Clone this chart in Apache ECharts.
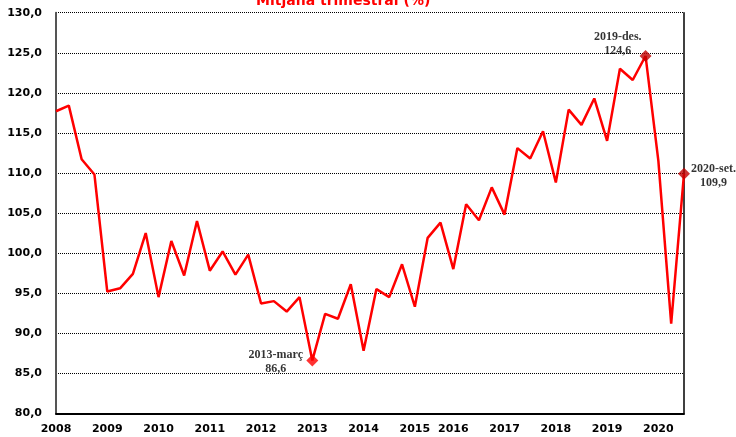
<!DOCTYPE html>
<html>
<head>
<meta charset="utf-8">
<script src="https://cdn.jsdelivr.net/npm/echarts@6/dist/echarts.min.js"></script>
<style>html,body{margin:0;padding:0;background:#fff;}#c{width:736px;height:437px;}</style>
</head>
<body>
<div id="c"></div>
<script>
const titleText = 'Mitjana trimestral (%)';
const categories = [
  '2008-març','2008-juny','2008-set.','2008-des.',
  '2009-març','2009-juny','2009-set.','2009-des.',
  '2010-març','2010-juny','2010-set.','2010-des.',
  '2011-març','2011-juny','2011-set.','2011-des.',
  '2012-març','2012-juny','2012-set.','2012-des.',
  '2013-març','2013-juny','2013-set.','2013-des.',
  '2014-març','2014-juny','2014-set.','2014-des.',
  '2015-març','2015-juny','2015-set.',
  '2016-març','2016-juny','2016-set.','2016-des.',
  '2017-març','2017-juny','2017-set.','2017-des.',
  '2018-març','2018-juny','2018-set.','2018-des.',
  '2019-març','2019-juny','2019-set.','2019-des.',
  '2020-març','2020-juny','2020-set.'
];
const values = [
  117.7, 118.4, 111.7, 109.8,
  95.2, 95.6, 97.4, 102.5,
  94.5, 101.5, 97.2, 104.0,
  97.8, 100.2, 97.3, 99.8,
  93.7, 94.0, 92.7, 94.5,
  86.6, 92.4, 91.8, 96.1,
  87.8, 95.5, 94.5, 98.6,
  93.3, 101.9, 103.8,
  98.0, 106.1, 104.1, 108.2,
  104.8, 113.1, 111.8, 115.2,
  108.8, 117.9, 116.0, 119.3,
  114.0, 123.0, 121.6, 124.6,
  111.5, 91.2, 109.9
];
const yTicks = { min: 80, max: 130, interval: 5 };
const tickYears = ['2008','2009','2010','2011','2012','2013','2014','2015','2016','2017','2018','2019','2020'];
const highlightCats = ['2013-març', '2019-des.', '2020-set.'];
const highlightNames = ['2013-març', '2019-des.', '2020-set.'];
const highlightValues = [86.6, 124.6, 109.9];
const highlightColors = ['#FF0000', '#C00000', '#C00000'];
const highlightLabelPos = [[-30.5, 7], [-21.8, -5.6], [35.5, 8.6]];

const chart = echarts.init(document.getElementById('c'), null, { renderer: 'canvas' });
const fmt = v => v.toFixed(1).replace('.', ',');

chart.setOption({
  animation: false,
  backgroundColor: '#fff',
  title: {
    text: titleText,
    left: 256, top: -6,
    padding: 0,
    textStyle: { color: '#FF0000', fontFamily: 'DejaVu Sans', fontWeight: 'bold', fontSize: 14 }
  },
  grid: { left: 56, right: 52, top: 12.7, bottom: 23.7, containLabel: false },
  xAxis: {
    type: 'category',
    data: categories,
    boundaryGap: false,
    axisLine: { show: true, lineStyle: { color: '#000', width: 2 } },
    axisTick: { show: false },
    splitLine: { show: false },
    axisLabel: {
      interval: (i, v) => tickYears.includes(v.slice(0, 4)) && v.endsWith('març'),
      formatter: v => v.slice(0, 4),
      margin: 10,
      color: '#000',
      fontFamily: 'DejaVu Sans', fontWeight: 'bold', fontSize: 11
    }
  },
  yAxis: [{
    type: 'value',
    min: yTicks.min, max: yTicks.max, interval: yTicks.interval,
    axisLine: { show: true, lineStyle: { color: '#555', width: 2 } },
    axisTick: { show: false },
    splitLine: { show: true, lineStyle: { color: '#000', type: [1, 1], width: 1 } },
    axisLabel: {
      formatter: v => fmt(v),
      margin: 14,
      color: '#000',
      fontFamily: 'DejaVu Sans', fontWeight: 'bold', fontSize: 11
    }
  }, {
    type: 'value', position: 'right',
    min: yTicks.min, max: yTicks.max, interval: yTicks.interval,
    axisLine: { show: true, onZero: false, lineStyle: { color: '#000', width: 1.5 } },
    axisTick: { show: false }, axisLabel: { show: false }, splitLine: { show: false }
  }],
  series: [{
    type: 'line',
    data: values,
    symbol: 'none',
    lineStyle: { color: '#FF0000', width: 2.5 },
    z: 2
  }, {
    type: 'scatter',
    data: highlightCats.map((c, i) => ({
      value: [c, highlightValues[i]],
      itemStyle: { color: highlightColors[i] },
      label: {
        show: true,
        position: highlightLabelPos[i],
        align: 'center', verticalAlign: 'middle',
        formatter: highlightNames[i] + '\n' + fmt(highlightValues[i]),
        fontFamily: 'Liberation Serif', fontWeight: 'bold', fontSize: 12, lineHeight: 14,
        color: '#000'
      }
    })),
    symbol: 'diamond',
    symbolSize: 12,
    z: 3
  }]
});
</script>
</body>
</html>
